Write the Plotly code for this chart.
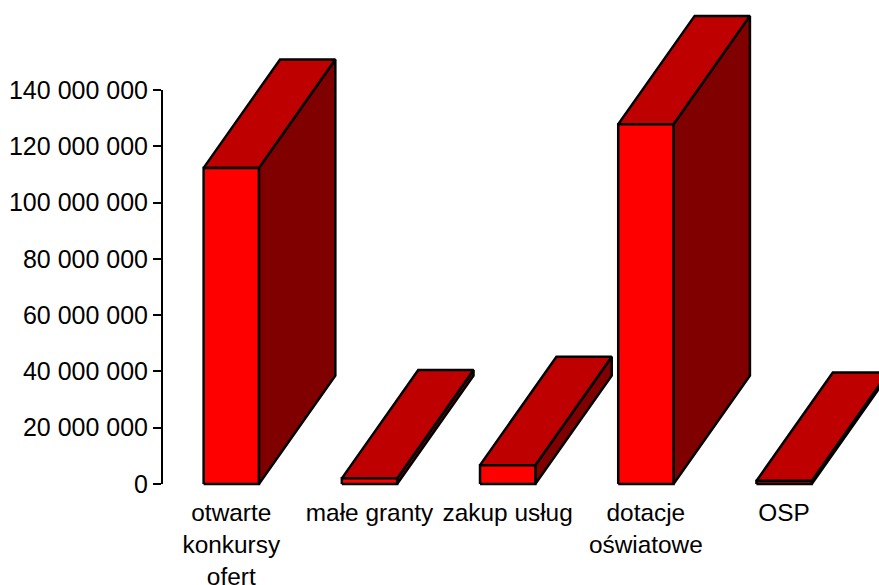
import plotly.graph_objects as go

categories = ["otwarte<br>konkursy<br>ofert", "małe granty", "zakup usług", "dotacje<br>oświatowe", "OSP"]
values = [112300000, 2000000, 6700000, 127800000, 1100000]
tick_values = [0, 20000000, 40000000, 60000000, 80000000, 100000000, 120000000, 140000000]
tick_labels = ["0", "20 000 000", "40 000 000", "60 000 000", "80 000 000", "100 000 000", "120 000 000", "140 000 000"]

FRONT, TOP, SIDE = "#FF0000", "#BF0000", "#800000"
HALF_W = 0.2
DX = 0.553
DY = 38500000
LW = 2.5
FONT = dict(family="Liberation Sans, Arial, sans-serif", size=25, color="#000000")
XFONT = dict(family="Liberation Sans, Arial, sans-serif", size=24.4, color="#000000")

fig = go.Figure()


def face(xs, ys, color):
    fig.add_trace(go.Scatter(
        x=xs + xs[:1], y=ys + ys[:1], mode="lines", fill="toself", fillcolor=color,
        line=dict(color="#000000", width=LW), hoverinfo="skip", showlegend=False,
    ))


for i, v in enumerate(values):
    l, r = i - HALF_W, i + HALF_W
    face([r, r + DX, r + DX, r], [0, DY, v + DY, v], SIDE)
    face([l, r, r + DX, l + DX], [v, v, v + DY, v + DY], TOP)
    face([l, r, r, l], [0, 0, v, v], FRONT)

# carrier for the visible value axis, which is shorter than the drawing area of the bars
fig.add_trace(go.Scatter(x=[0], y=[0], yaxis="y2", mode="markers", marker=dict(opacity=0),
                         hoverinfo="skip", showlegend=False))

fig.update_layout(
    width=879, height=585, autosize=False,
    margin=dict(l=163, r=0, t=8, b=95, pad=0, autoexpand=False),
    paper_bgcolor="white", plot_bgcolor="rgba(0,0,0,0)", showlegend=False,
    font=FONT,
    xaxis=dict(range=[-0.494, 4.687], tickmode="array", tickvals=list(range(len(categories))),
               ticktext=categories, showgrid=False, zeroline=False, showline=False, automargin=False,
               ticks="", tickangle=0, tickfont=XFONT, ticklabelstandoff=6),
    yaxis=dict(range=[-2130000, 169100000], visible=False, fixedrange=True, automargin=False),
    yaxis2=dict(domain=[0.01245, 0.8299], range=[0, 140000000], anchor="x", tickmode="array",
                tickvals=tick_values, ticktext=tick_labels, showgrid=False, zeroline=False,
                showline=True, linecolor="#000000", linewidth=2, automargin=False,
                ticks="outside", ticklen=8, tickwidth=2, tickcolor="#000000", tickfont=FONT),
)
fig.write_html("out.html", config=dict(displayModeBar=False),
               post_script="document.body.style.margin='0';document.documentElement.style.overflow='hidden';")
